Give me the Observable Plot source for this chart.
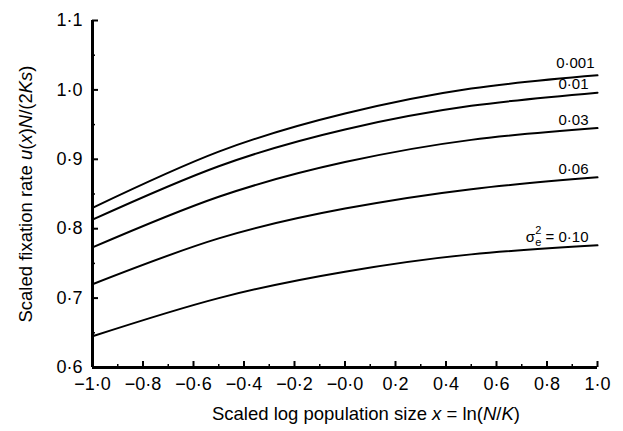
<!DOCTYPE html>
<html>
<head>
<meta charset="utf-8">
<script src="https://cdn.jsdelivr.net/npm/d3@7"></script>
<script src="https://cdn.jsdelivr.net/npm/@observablehq/plot@0.6"></script>
<style>
  body { margin: 0; background: #fff; }
  svg { font-family: "Liberation Sans", Arial, Helvetica, sans-serif; }
</style>
</head>
<body>
<div id="chart"></div>
<script>
// Scaled log population size x = ln(N/K)
const xGrid = [-1, -0.5, 0, 0.5, 1];

// Environmental variance levels (curve labels)
const varianceLabels = ["0·001", "0·01", "0·03", "0·06", "0·10"];

// Scaled fixation rate u(x)N/(2Ks) for each variance level
const rateV0001 = [0.830, 0.911, 0.966, 1.002, 1.021];
const rateV001  = [0.813, 0.890, 0.943, 0.977, 0.996];
const rateV003  = [0.773, 0.846, 0.896, 0.928, 0.945];
const rateV006  = [0.720, 0.786, 0.829, 0.857, 0.874];
const rateV010  = [0.645, 0.700, 0.738, 0.763, 0.776];

// Axis ticks and their labels (middle-dot decimals)
const xMajor = [-1, -0.8, -0.6, -0.4, -0.2, 0, 0.2, 0.4, 0.6, 0.8, 1];
const xTickLabels = ["−1·0", "−0·8", "−0·6", "−0·4", "−0·2", "−0·0", "0·2", "0·4", "0·6", "0·8", "1·0"];
const xMinor = [-0.9, -0.7, -0.5, -0.3, -0.1, 0.1, 0.3, 0.5, 0.7, 0.9];
const yMajor = [0.6, 0.7, 0.8, 0.9, 1.0, 1.1];
const yTickLabels = ["0·6", "0·7", "0·8", "0·9", "1·0", "1·1"];
const yMinor = [0.65, 0.75, 0.85, 0.95, 1.05];

const seriesValues = [rateV0001, rateV001, rateV003, rateV006, rateV010];
const rows = [];
seriesValues.forEach((vals, s) => {
  vals.forEach((v, i) => rows.push({series: varianceLabels[s], x: xGrid[i], y: v}));
});
const ends = seriesValues.map((vals, s) => ({
  label: varianceLabels[s], x: xGrid[xGrid.length - 1], y: vals[vals.length - 1]
}));

const chart = Plot.plot({
  width: 623,
  height: 431,
  marginLeft: 92,
  marginRight: 26,
  marginTop: 20,
  marginBottom: 64,
  x: {domain: [-1, 1]},
  y: {domain: [0.6, 1.1]},
  style: {background: "white", color: "black", fontSize: "18px"},
  marks: [
    // inward major and minor ticks
    Plot.axisX({ticks: xMajor, tickSize: -6, strokeWidth: 2, tickFormat: () => "", label: null}),
    Plot.axisX({ticks: xMinor, tickSize: -3, strokeWidth: 1.5, tickFormat: () => "", label: null}),
    Plot.axisY({ticks: yMajor, tickSize: -6, strokeWidth: 2, tickFormat: () => "", label: null}),
    Plot.axisY({ticks: yMinor, tickSize: -3, strokeWidth: 1.5, tickFormat: () => "", label: null}),
    // tick labels
    Plot.axisX({ticks: xMajor, tickSize: 0, tickPadding: 10, fontSize: 18,
      tickFormat: d => xTickLabels[xMajor.indexOf(d)], label: null}),
    Plot.axisY({ticks: yMajor, tickSize: 0, tickPadding: 10, fontSize: 18,
      tickFormat: d => yTickLabels[yMajor.indexOf(d)], label: null}),
    // axis lines
    Plot.ruleX([-1], {strokeWidth: 3}),
    Plot.ruleY([0.6], {strokeWidth: 3}),
    // curves
    Plot.line(rows, {x: "x", y: "y", z: "series", curve: "natural", stroke: "black", strokeWidth: 2}),
    // curve labels
    Plot.text(ends.slice(0, 1), {x: "x", y: "y", text: "label", textAnchor: "end",
      dx: -3, dy: -12, fontSize: 15}),
    Plot.text(ends.slice(1), {x: "x", y: "y", text: "label", textAnchor: "end",
      dx: -9, dy: -8, fontSize: 15})
  ]
});

const svg = d3.select(chart);

// σe² prefix on the highest-variance label
svg.selectAll("text").filter(function () { return this.textContent === "0·10"; })
  .each(function () {
    const t = d3.select(this);
    t.text(null);
    t.append("tspan").text("σ");
    t.append("tspan").attr("font-size", 11).attr("dy", 4).text("e");
    t.append("tspan").attr("font-size", 11).attr("dx", -6).attr("dy", -12).text("2");
    t.append("tspan").attr("dy", 8).text(" = 0·10");
  });

// axis titles with italic symbols
function addTitle(parts, attrs) {
  const t = svg.append("text").attr("font-size", 18.5).attr("fill", "black");
  Object.entries(attrs).forEach(([k, v]) => t.attr(k, v));
  parts.forEach(([s, it]) => {
    const sp = t.append("tspan").text(s);
    if (it) sp.attr("font-style", "italic");
  });
}
addTitle(
  [["Scaled log population size ", false], ["x", true], [" = ln(", false], ["N", true], ["/", false], ["K", true], [")", false]],
  {x: 366, y: 420, "text-anchor": "middle"}
);
addTitle(
  [["Scaled fixation rate ", false], ["u", true], ["(", false], ["x", true], [")", false], ["N", true], ["/(2", false], ["Ks", true], [")", false]],
  {transform: "translate(32,194) rotate(-90)", "text-anchor": "middle"}
);

document.getElementById("chart").appendChild(chart);
</script>
</body>
</html>
